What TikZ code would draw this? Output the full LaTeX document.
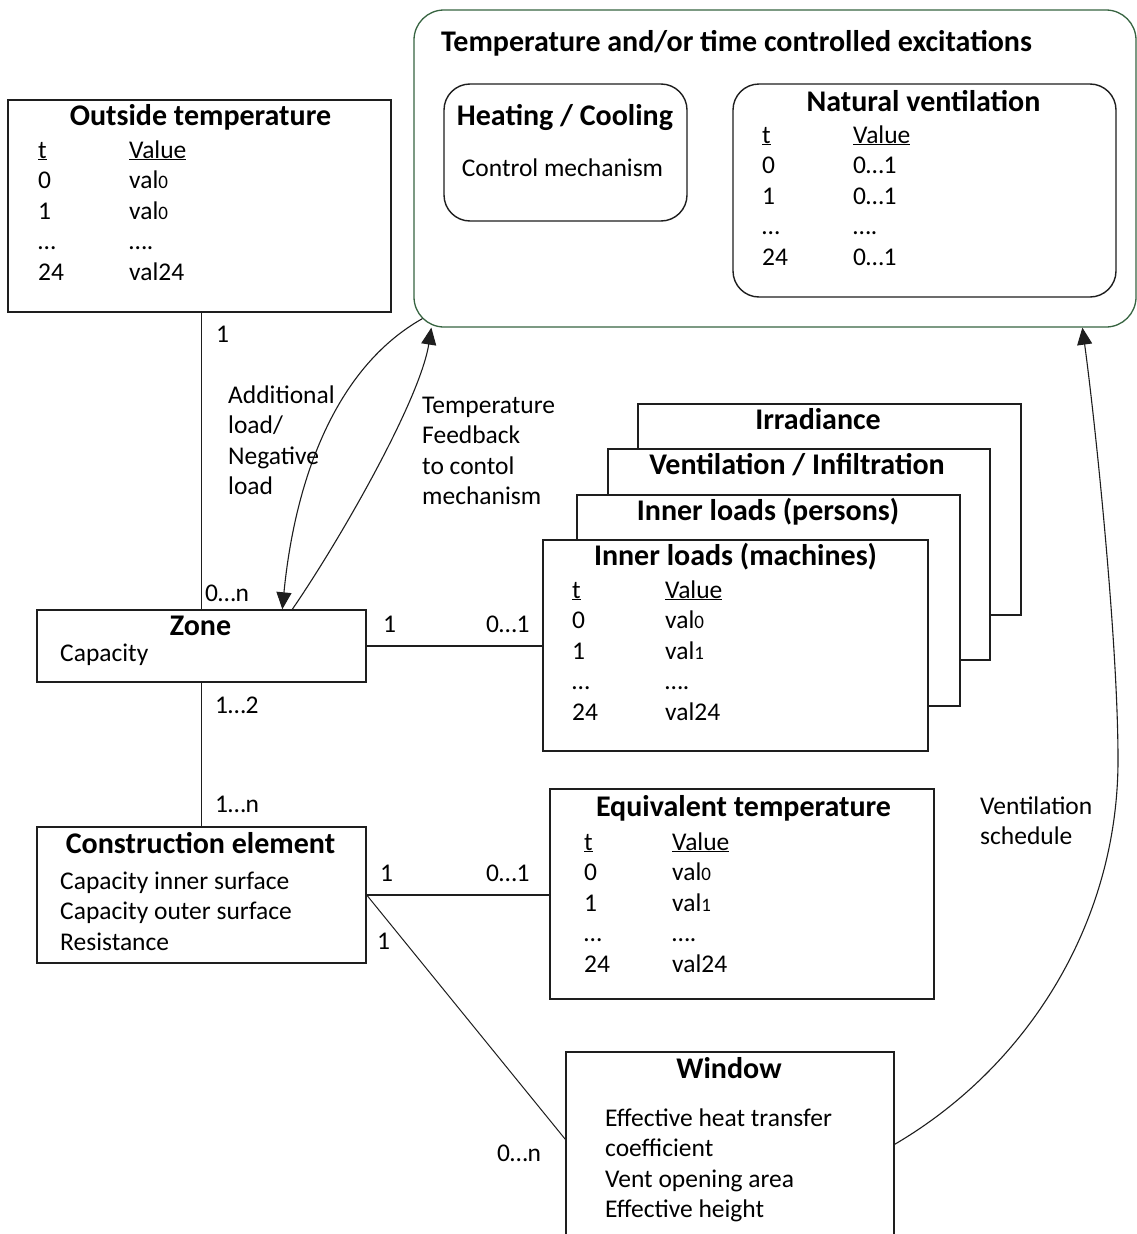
\documentclass[tikz,border=0pt]{standalone}
\usepackage{fontspec}
\setmainfont{Carlito}
\usetikzlibrary{arrows.meta,calc}

\definecolor{boxline}{RGB}{30,30,30}
\definecolor{excgreen}{RGB}{55,100,65}

% small figures used in the value columns
\newcommand{\sm}[1]{{\fontsize{19}{19}\selectfont #1}}
% two-column time/value table
\newcommand{\tv}[2][91pt]{\begin{tabular}[t]{@{}p{#1}@{}l@{}}#2\end{tabular}}
% stacked lines of text
\newcommand{\lns}[1]{\begin{tabular}[t]{@{}l@{}}#1\end{tabular}}

\tikzset{
  box/.style={draw=boxline, line width=1.4pt, rectangle, inner sep=0pt, fill=white},
  rbox/.style={box, rounded corners=26pt},
  ttl/.style={anchor=base, inner sep=0pt, font=\fontsize{30}{35}\selectfont\bfseries},
  txt/.style={anchor=base west, inner sep=0pt, font=\fontsize{25.5}{30.5}\selectfont},
  ctxt/.style={txt, anchor=base},
  link/.style={draw=boxline, line width=1.2pt},
  flow/.style={draw=boxline, line width=1.1pt, -{Triangle[length=17pt,width=15pt]}},
}

\begin{document}
\begin{tikzpicture}[x=1pt,y=-1pt]
\path[use as bounding box, clip] (0,0) rectangle (1137,1234);
\fill[white] (0,0) rectangle (1137,1234);

% ---------- outside temperature ----------
\node[box, minimum width=383pt, minimum height=212pt] (outside) at (199.5,206) {};
\node[ttl] (outsideT) at (200.5,125) {Outside temperature};
\node[txt] (outsideV) at (38,158) {\tv{\underline{t} & \underline{Value}\\ 0 & val\sm{0}\\ 1 & val\sm{0}\\ … & ….\\ 24 & val24}};

% ---------- excitations ----------
\node[box, draw=excgreen, line width=1.3pt, rounded corners=30pt, minimum width=722pt, minimum height=317pt] (exc) at (775,168.5) {};
\node[ttl, anchor=base west] (excT) at (441,51) {Temperature and/or time controlled excitations};

\node[rbox, minimum width=243pt, minimum height=137pt] (heat) at (565.5,152.5) {};
\node[ttl] (heatT) at (565,125) {Heating / Cooling};
\node[ctxt] (heatV) at (562.5,176) {Control mechanism};

\node[rbox, minimum width=383pt, minimum height=213pt] (nat) at (924.5,190.5) {};
\node[ttl] (natT) at (923.5,111) {Natural ventilation};
\node[txt] (natV) at (762,143) {\tv{\underline{t} & \underline{Value}\\ 0 & 0…1\\ 1 & 0…1\\ … & ….\\ 24 & 0…1}};

% ---------- stacked load profiles ----------
\node[box, minimum width=383pt, minimum height=211pt] (irr) at (829.5,509.5) {};
\node[ttl] (irrT) at (818,429) {Irradiance};
\node[box, minimum width=382pt, minimum height=211pt] (vent) at (799,554.5) {};
\node[ttl] (ventT) at (797,474) {Ventilation / Infiltration};
\node[box, minimum width=383pt, minimum height=211pt] (pers) at (768.5,600.5) {};
\node[ttl] (persT) at (768,520) {Inner loads (persons)};
\node[box, minimum width=385pt, minimum height=211pt] (mach) at (735.5,645.5) {};
\node[ttl] (machT) at (735.5,565) {Inner loads (machines)};
\node[txt] (machV) at (572,598) {\tv[93pt]{\underline{t} & \underline{Value}\\ 0 & val\sm{0}\\ 1 & val\sm{1}\\ … & ….\\ 24 & val24}};

% ---------- zone ----------
\node[box, minimum width=329pt, minimum height=72pt] (zone) at (201.5,646) {};
\node[ttl] (zoneT) at (200.5,635) {Zone};
\node[txt] (zoneV) at (60,661) {Capacity};

% ---------- construction element ----------
\node[box, minimum width=329pt, minimum height=136pt] (cons) at (201.5,895) {};
\node[ttl] (consT) at (200.5,853) {Construction element};
\node[txt] (consV) at (60,889) {\lns{Capacity inner surface\\ Capacity outer surface\\ Resistance}};

% ---------- equivalent temperature ----------
\node[box, minimum width=384pt, minimum height=210pt] (equiv) at (742,894) {};
\node[ttl] (equivT) at (743.5,816) {Equivalent temperature};
\node[txt] (equivV) at (584,850) {\tv[88pt]{\underline{t} & \underline{Value}\\ 0 & val\sm{0}\\ 1 & val\sm{1}\\ … & ….\\ 24 & val24}};

% ---------- window ----------
\node[box, minimum width=328pt, minimum height=248pt] (win) at (730,1176) {};
\node[ttl] (winT) at (729,1078) {Window};
\node[txt] (winV) at (605,1126) {\lns{Effective heat transfer\\ coefficient\\ Vent opening area\\ Effective height}};

% ---------- associations ----------
\draw[link] (zone.north |- outside.south) -- (zone.north);
\draw[link] (zone.south) -- (cons.north);
\draw[link] (zone.east) -- (zone.east -| mach.west);
\draw[link] (cons.east) -- (cons.east -| equiv.west);
\coordinate (winIn) at ($(win.north west)+(0,88)$);
\draw[link, line width=1pt] (cons.east) -- (winIn);

\node[txt] (m1) at (216,342) {1};
\node[txt] (m2) at (205,601) {0…n};
\node[txt] (m3) at (215,713) {1…2};
\node[txt] (m4) at (215,812) {1…n};
\node[txt] (m5) at (383,632) {1};
\node[txt] (m6) at (486,632) {0…1};
\node[txt] (m7) at (380,881) {1};
\node[txt] (m8) at (486,881) {0…1};
\node[txt] (m9) at (377,949) {1};
\node[txt] (m10) at (497,1161) {0…n};

% ---------- flows ----------
\draw[flow] ($(exc.south west)+(9,-9)$) .. controls (335,368) and (295,480) .. ($(zone.north west)+(246,0)$);
\draw[flow] ($(zone.north west)+(256,0)$) .. controls (340,540) and (420,400) .. ($(exc.south west)+(18,0)$);
\draw[flow] ($(win.north east)+(0,93)$) .. controls (1030,1065) and (1118,920) .. (1118,760)
  .. controls (1118,640) and (1095,420) .. ($(exc.south west)+(669,0)$);

\node[txt] (f1) at (228,403) {\lns{Additional\\ load/\\ Negative\\ load}};
\node[txt] (f2) at (422,413) {\lns{Temperature\\ Feedback\\ to contol\\ mechanism}};
\node[txt] (f3) at (980,814) {\lns{Ventilation\\ schedule}};
\end{tikzpicture}
\end{document}
